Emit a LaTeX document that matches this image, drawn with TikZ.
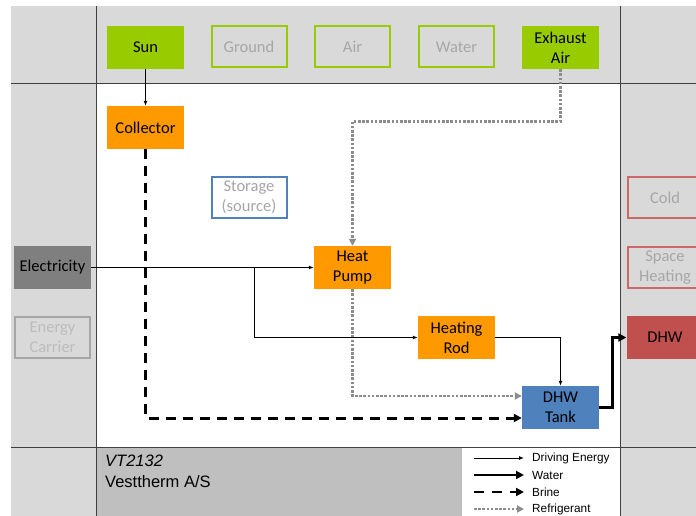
\documentclass[tikz,border=0pt]{standalone}
\usepackage{fontspec}
\setmainfont{Carlito}
\newfontfamily\arialfont{Liberation Sans}
\usetikzlibrary{arrows.meta, positioning}
\definecolor{bggray}{HTML}{D9D9D9}
\definecolor{footgray}{HTML}{BFBFBF}
\definecolor{linegray}{HTML}{404040}
\definecolor{offgray}{HTML}{A6A6A6}
\definecolor{srcgreen}{HTML}{99CC00}
\definecolor{convorange}{HTML}{FF9900}
\definecolor{tankblue}{HTML}{4F81BD}
\definecolor{sinkred}{HTML}{C0504D}
\definecolor{elecgray}{HTML}{7F7F7F}
\definecolor{refgray}{HTML}{8C8C8C}
\tikzset{
    unit/.style={minimum width=77pt, minimum height=43pt, inner sep=0pt, align=center,
        font=\fontsize{16.5}{20}\selectfont},
    unitoff/.style={unit, minimum width=75pt, minimum height=41pt, line width=2pt, text=offgray},
    source/.style={unit, fill=srcgreen},
    sourceoff/.style={unitoff, draw=srcgreen},
    converter/.style={unit, fill=convorange},
    storage/.style={unit, fill=tankblue},
    storageoff/.style={unitoff, draw=tankblue},
    sink/.style={unit, fill=sinkred},
    sinkoff/.style={unitoff, draw=sinkred!85},
    carrier/.style={unit, fill=elecgray},
    carrieroff/.style={unitoff, draw=offgray, text=offgray!75},
    gridline/.style={linegray, line width=1pt},
    energy/.style={-{Latex[length=5pt, width=4pt]}, line width=0.9pt},
    water/.style={-{Triangle[length=8pt, width=8pt]}, line width=3pt},
    brine/.style={-{Triangle[length=8pt, width=8pt]}, line width=3pt, dash pattern=on 10pt off 7pt},
    refrig/.style={-{Triangle[length=7pt, width=7pt]}, line width=2.8pt, refgray, dash pattern=on 2.6pt off 1.6pt},
    legendtext/.style={anchor=west, inner sep=0pt, font=\arialfont\fontsize{11.8}{13}\selectfont}
}
\begin{document}
\begin{tikzpicture}[x=1pt, y=-1pt]
    \useasboundingbox (0,0) rectangle (696,516);
    % Background panels
    \fill[white] (0,0) rectangle (696,516);
    \fill[bggray] (11,6) rectangle (696,516);
    \fill[white] (96,84) rectangle (620,447);
    \fill[footgray] (96,447) rectangle (462,516);
    \fill[white] (462,447) rectangle (620,516);
    \draw[gridline] (11,84) -- (696,84);
    \draw[gridline] (11,447) -- (696,447);
    \draw[gridline] (96,6) -- (96,516);
    \draw[gridline] (620,6) -- (620,516);
    % Sources
    \node[source] (sun) at (145.5,47.5) {Sun};
    \node[sourceoff] (ground) at (249,47) {Ground};
    \node[sourceoff] (air) at (352.5,47) {Air};
    \node[sourceoff] (water) at (456.5,47) {Water};
    \node[source] (exhaust) at (560.5,47.5) {Exhaust\\Air};
    % Energy carriers
    \node[carrier] (elec) at (52.5,267.5) {Electricity};
    \node[carrieroff] (carrier) at (52.5,337) {Energy\\Carrier};
    % Converters and storages
    \node[converter] (collector) at (145.5,127.5) {Collector};
    \node[storageoff] (storage) at (249,197.5) {Storage\\(source)};
    \node[converter] (hp) at (352.5,267.5) {Heat\\Pump};
    \node[converter] (rod) at (456.5,337.5) {Heating\\Rod};
    \node[storage] (tank) at (560.5,407.5) {DHW\\Tank};
    % Sinks
    \node[sinkoff] (cold) at (665,197.5) {Cold};
    \node[sinkoff] (space) at (665,267.5) {Space\\Heating};
    \node[sink] (dhw) at (665,337.5) {DHW};
    % Flows
    \draw[energy] (sun) -- (collector);
    \draw[brine] (collector.south) |- ([yshift=-10.5pt]tank.west);
    \draw[refrig] (exhaust.south) -- ++(0,52) -| (hp.north);
    \draw[refrig] (hp.south) |- ([yshift=11.5pt]tank.west);
    \draw[energy] (elec) -- (hp);
    \coordinate (split) at (254,267.5);
    \draw[energy] (split) |- (rod.west);
    \draw[energy] (rod.east) -| (tank.north);
    \draw[water] (tank.east) -- ++(13,0) |- (dhw.west);
    % Footer
    \node[anchor=west, inner sep=0pt, font=\arialfont\itshape\fontsize{16.5}{18}\selectfont] (code) at (105,461) {VT2132};
    \node[anchor=west, inner sep=0pt, font=\arialfont\fontsize{16.5}{18}\selectfont] (maker) at (105,482) {Vesttherm A/S};
    % Legend
    \node[legendtext] (lgdrive) at (532,458) {Driving Energy};
    \node[legendtext] (lgwater) at (532,475) {Water};
    \node[legendtext] (lgbrine) at (532,492) {Brine};
    \node[legendtext] (lgrefrig) at (532,509) {Refrigerant};
    \draw[energy] ([xshift=-58pt]lgdrive.west) -- ([xshift=-8pt]lgdrive.west);
    \draw[water, line width=2.5pt] ([xshift=-58pt]lgwater.west) -- ([xshift=-8pt]lgwater.west);
    \draw[brine, line width=2.5pt, dash pattern=on 10pt off 8pt] ([xshift=-58pt]lgbrine.west) -- ([xshift=-8pt]lgbrine.west);
    \draw[refrig, line width=2.2pt] ([xshift=-58pt]lgrefrig.west) -- ([xshift=-8pt]lgrefrig.west);
\end{tikzpicture}
\end{document}
